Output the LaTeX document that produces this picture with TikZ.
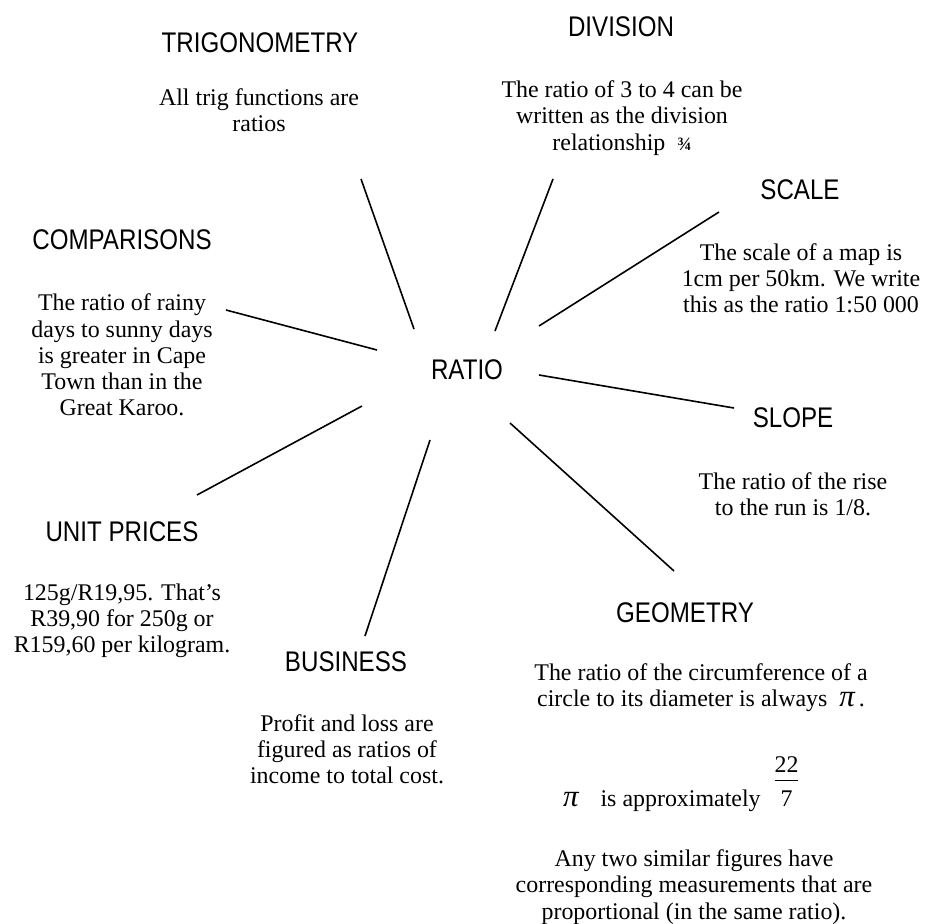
\documentclass[tikz,border=0pt]{standalone}
\usepackage{amsmath}
\usepackage{fontspec}
\setmainfont{Liberation Serif}
\newfontfamily\headfont[FakeStretch=0.85]{Liberation Sans}
\tikzstyle{heading}=[font=\headfont\fontsize{28.5}{31}\selectfont,inner sep=0pt]
\tikzstyle{note}=[font=\fontsize{24}{26.3}\selectfont,align=center,inner sep=0pt]
\tikzstyle{spoke} = [draw,line width=1.6bp,-]
\setlength{\arrayrulewidth}{1bp}
\newcommand{\bigpi}{{\fontsize{31}{31}\selectfont\itshape π}}

\begin{document}
\begin{tikzpicture}[x=1bp,y=-1bp]
    \useasboundingbox (0,0) rectangle (931,924);
    % The headings, RATIO in the middle
    \foreach \pos/\name/\txt in {{(467,370)/ratio/RATIO}, {(260,43)/trig/TRIGONOMETRY}, {(621,27)/div/DIVISION},
        {(800,190)/scale/SCALE}, {(122,240)/comp/COMPARISONS}, {(793,418)/slope/SLOPE},
        {(122,532)/unit/UNIT PRICES}, {(346,662)/bus/BUSINESS}, {(685,613)/geo/GEOMETRY}}
        \node[heading] (\name) at \pos {\txt};

    % Then the notes under the headings
    \node[note] (trig-note) at (259,110) {All trig functions are\\ ratios};
    \node[note] (div-note) at (622,118) {The ratio of 3 to 4 can be\\ written as the division\\
        relationship\ \ {\fontsize{19}{19}\selectfont\bfseries ¾}};
    \node[note] (scale-note) at (801,278) {The scale of a map is\\ 1cm per 50km. We write\\ this as the ratio 1:50 000};
    \node[note] (comp-note) at (122,355) {The ratio of rainy\\ days to sunny days\\ is greater in Cape\\ Town than in the\\ Great Karoo.};
    \node[note] (slope-note) at (793,494) {The ratio of the rise\\ to the run is 1/8.};
    \node[note] (unit-note) at (122,621) {125g/R19,95. That’s\\ R39,90 for 250g or\\ R159,60 per kilogram.};
    \node[note] (bus-note) at (347,749) {Profit and loss are\\ figured as ratios of\\ income to total cost.};
    \node[note] (geo-note) at (701,688) {The ratio of the circumference of a\\ circle to its diameter is always \ \smash{\bigpi}\,.};
    \node[note,anchor=base west] (pi-note) at (563,806) {\bigpi\hspace{22pt}is approximately\hspace{14pt}%
        \begin{tabular}[b]{@{}c@{}}22\\\hline\rule{0pt}{25pt}7\end{tabular}};
    \node[note] (sim-note) at (694,887) {Any two similar figures have\\ corresponding measurements that are\\ proportional (in the same ratio).};

    % Ends of the spokes
    \foreach \x/\y/\name in {361/179/trig-a, 414/329/trig-b, 553/179/div-a, 495/331/div-b,
        719/212/scale-a, 539/326/scale-b, 226/310/comp-a, 377/350/comp-b,
        734/408/slope-a, 539/375/slope-b, 197/495/unit-a, 362/406/unit-b,
        365/636/bus-a, 430/440/bus-b, 674/571/geo-a, 510/423/geo-b}
        \coordinate (\name) at (\x,\y);

    % Connect them
    \foreach \source/ \dest in {trig-a/trig-b, div-a/div-b, scale-a/scale-b, comp-a/comp-b,
        slope-a/slope-b, unit-a/unit-b, bus-a/bus-b, geo-a/geo-b}
        \path[spoke] (\source) -- (\dest) ;

\end{tikzpicture}
\end{document}
